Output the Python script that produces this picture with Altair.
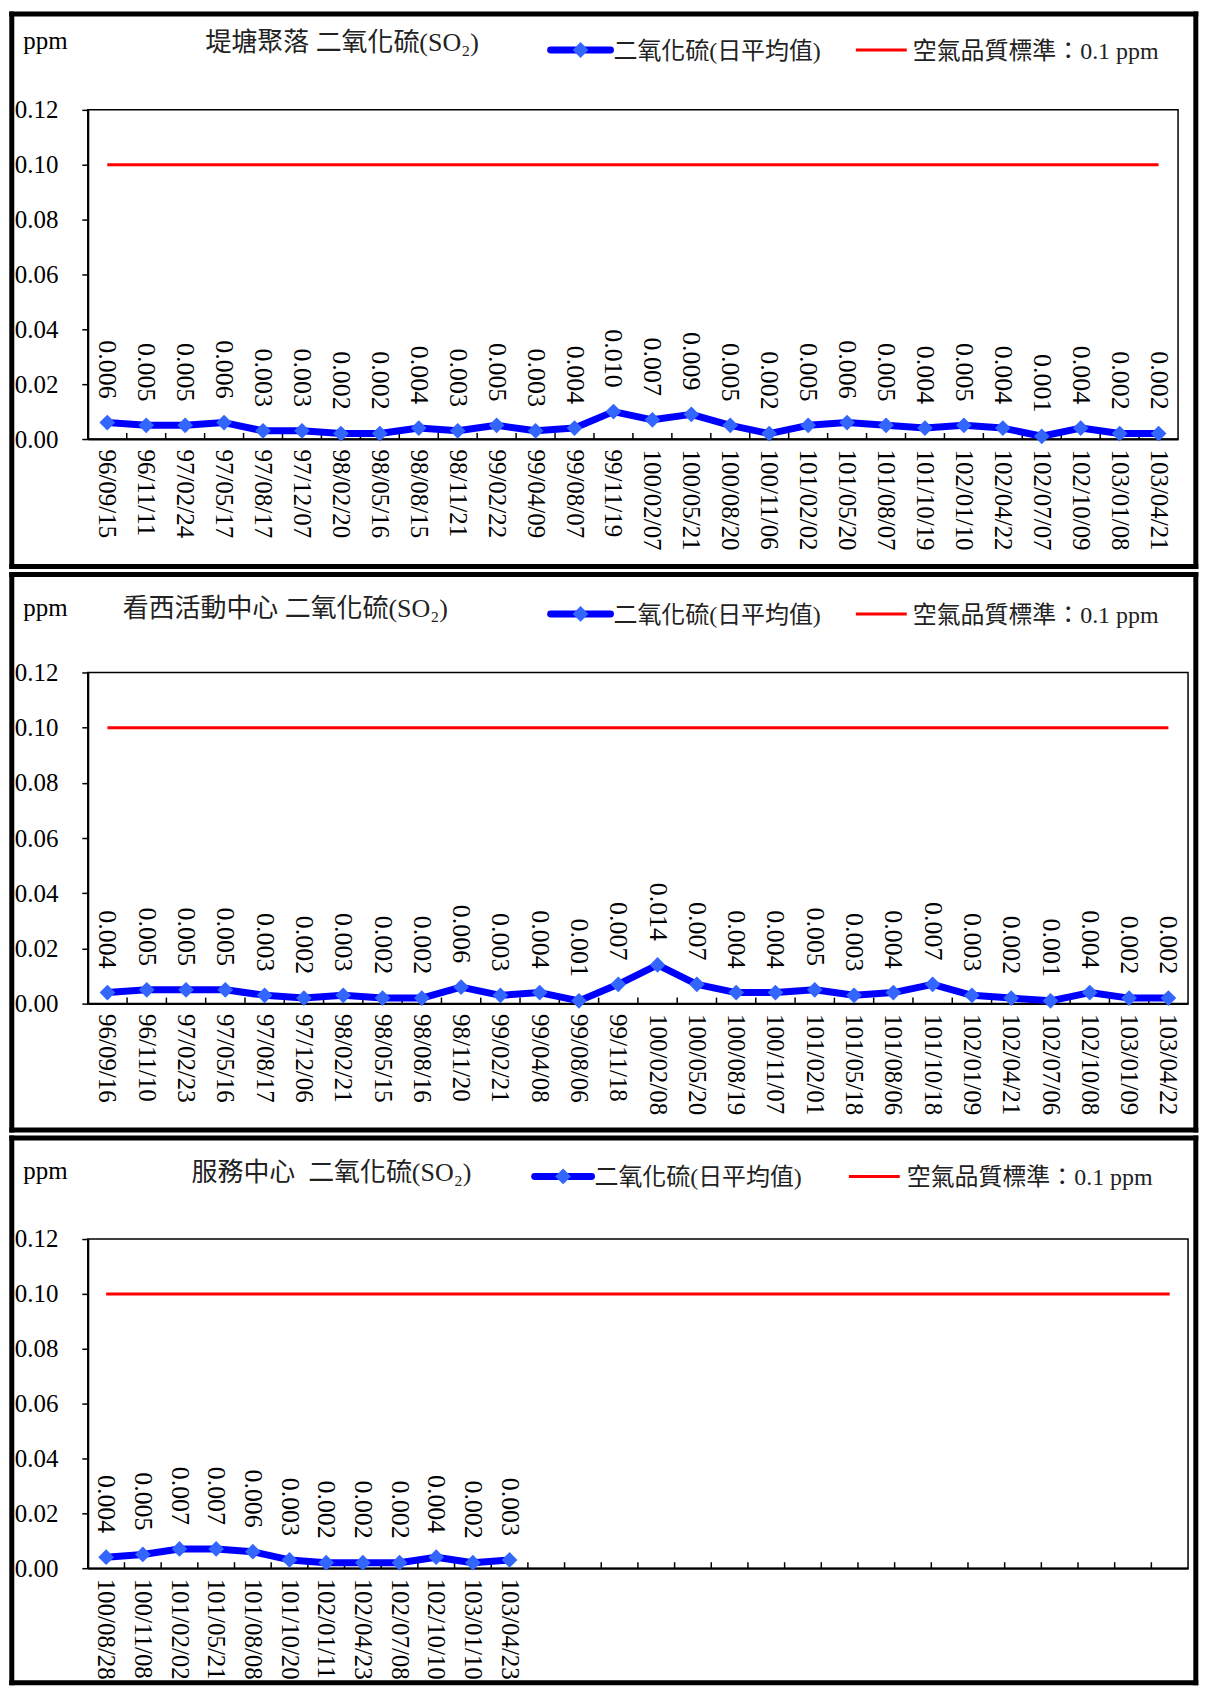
import altair as alt
import pandas as pd

FONT = 'Liberation Serif, "Noto Sans CJK TC"'

STANDARD = 0.1
Y_TICKS = [0.0, 0.02, 0.04, 0.06, 0.08, 0.10, 0.12]
unit_label = "ppm"
series_name = "二氧化硫(日平均值)"
standard_name = "空氣品質標準：0.1 ppm"

p1_title = "堤塘聚落 二氧化硫(SO₂)"
p1_dates = ["96/09/15", "96/11/11", "97/02/24", "97/05/17", "97/08/17", "97/12/07",
            "98/02/20", "98/05/16", "98/08/15", "98/11/21", "99/02/22", "99/04/09",
            "99/08/07", "99/11/19", "100/02/07", "100/05/21", "100/08/20", "100/11/06",
            "101/02/02", "101/05/20", "101/08/07", "101/10/19", "102/01/10", "102/04/22",
            "102/07/07", "102/10/09", "103/01/08", "103/04/21"]
p1_values = [0.006, 0.005, 0.005, 0.006, 0.003, 0.003, 0.002, 0.002, 0.004, 0.003,
             0.005, 0.003, 0.004, 0.010, 0.007, 0.009, 0.005, 0.002, 0.005, 0.006,
             0.005, 0.004, 0.005, 0.004, 0.001, 0.004, 0.002, 0.002]

p2_title = "看西活動中心 二氧化硫(SO₂)"
p2_dates = ["96/09/16", "96/11/10", "97/02/23", "97/05/16", "97/08/17", "97/12/06",
            "98/02/21", "98/05/15", "98/08/16", "98/11/20", "99/02/21", "99/04/08",
            "99/08/06", "99/11/18", "100/02/08", "100/05/20", "100/08/19", "100/11/07",
            "101/02/01", "101/05/18", "101/08/06", "101/10/18", "102/01/09", "102/04/21",
            "102/07/06", "102/10/08", "103/01/09", "103/04/22"]
p2_values = [0.004, 0.005, 0.005, 0.005, 0.003, 0.002, 0.003, 0.002, 0.002, 0.006,
             0.003, 0.004, 0.001, 0.007, 0.014, 0.007, 0.004, 0.004, 0.005, 0.003,
             0.004, 0.007, 0.003, 0.002, 0.001, 0.004, 0.002, 0.002]

p3_title = "服務中心\u00a0 二氧化硫(SO₂)"
p3_dates = ["100/08/28", "100/11/08", "101/02/02", "101/05/21", "101/08/08", "101/10/20",
            "102/01/11", "102/04/23", "102/07/08", "102/10/10", "103/01/10", "103/04/23"]
p3_values = [0.004, 0.005, 0.007, 0.007, 0.006, 0.003, 0.002, 0.002, 0.002, 0.004,
             0.002, 0.003]
p3_empty_slots = 18


def make_panel(title, dates, values, n_empty, width, height, bounds,
               title_xy, ppm_xy, leg):
    domain = list(dates) + [" " * (i + 1) for i in range(n_empty)]
    df = pd.DataFrame({"date": dates, "value": values, "i": range(len(dates))})
    std_df = pd.DataFrame({"date": domain, "value": [STANDARD] * len(domain),
                           "i": range(len(domain))})
    tick_df = pd.DataFrame({"date": domain})
    one = alt.Data(values=[{"k": 0}])

    x_axis = alt.Axis(title=None, labelAngle=90, labelAlign="left", labelBaseline="middle",
                      labelPadding=10, ticks=False, labelOverlap=False, labelFont=FONT,
                      labelFontSize=25, labelColor="black", domainColor="black",
                      domainWidth=2)
    x_scale = alt.Scale(type="band", domain=domain, paddingInner=0, paddingOuter=0)

    def xe(**kw):
        return alt.X("date:N", scale=x_scale, axis=x_axis, **kw)

    y_enc = alt.Y("value:Q", scale=alt.Scale(domain=[0, 0.12], nice=False, zero=True),
                  axis=alt.Axis(title=None, values=Y_TICKS, format=".2f", tickSize=6,
                                tickColor="black", tickWidth=1.5, labelPadding=24,
                                labelFont=FONT, labelFontSize=25, labelColor="black",
                                domainColor="black", domainWidth=2, grid=False))

    L, T, R, B = bounds
    w = 5

    def bar(x1, x2, y1, y2):
        return alt.Chart(one).mark_rect(color="black", strokeWidth=0).encode(
            x=alt.value(x1), x2=alt.value(x2), y=alt.value(y1), y2=alt.value(y2))

    frame = [bar(L, R, T, T + w), bar(L, R, B - w, B),
             bar(L, L + w, T, B), bar(R - w, R, T, B)]

    ticks = alt.Chart(tick_df).mark_rule(color="black", strokeWidth=1.5).encode(
        x=xe(bandPosition=0), y=alt.value(height), y2=alt.value(height - 6))

    std = alt.Chart(std_df).mark_line(color="#FF0000", strokeWidth=3).encode(
        x=xe(), y=y_enc, order=alt.Order("i:Q"))

    line = alt.Chart(df).mark_line(color="#0000FF", strokeWidth=7, strokeCap="round",
                                   strokeJoin="round").encode(
        x=xe(), y=y_enc, order=alt.Order("i:Q"))

    pts = alt.Chart(df).mark_point(shape="diamond", filled=True, size=250,
                                   color="#3366FF", opacity=1).encode(x=xe(), y=y_enc)

    labels = alt.Chart(df).mark_text(angle=90, align="right", baseline="middle", dx=-24,
                                     font=FONT, fontSize=26, color="black").encode(
        x=xe(), y=y_enc, text=alt.Text("value:Q", format=".3f"))

    ppm = alt.Chart(one).mark_text(align="left", baseline="middle", font=FONT,
                                   fontSize=25, color="black").encode(
        x=alt.value(ppm_xy[0]), y=alt.value(ppm_xy[1]), text=alt.value(unit_label))

    ttl = alt.Chart(one).mark_text(align="left", baseline="middle", font=FONT,
                                   fontSize=26, color="#222222").encode(
        x=alt.value(title_xy[0]), y=alt.value(title_xy[1]), text=alt.value(title))

    bx1, bx2, btx, rx1, rx2, rtx, ly = leg
    leg_blue = alt.Chart(one).mark_rule(color="#0000FF", strokeWidth=7,
                                        strokeCap="round").encode(
        x=alt.value(bx1), x2=alt.value(bx2), y=alt.value(ly))
    leg_pt = alt.Chart(one).mark_point(shape="diamond", filled=True, size=250,
                                       color="#3366FF", opacity=1).encode(
        x=alt.value((bx1 + bx2) / 2), y=alt.value(ly))
    leg_btxt = alt.Chart(one).mark_text(align="left", baseline="middle", font=FONT,
                                        fontSize=24, color="#222222").encode(
        x=alt.value(btx), y=alt.value(ly + 2), text=alt.value(series_name))
    leg_red = alt.Chart(one).mark_rule(color="#FF0000", strokeWidth=3).encode(
        x=alt.value(rx1), x2=alt.value(rx2), y=alt.value(ly))
    leg_rtxt = alt.Chart(one).mark_text(align="left", baseline="middle", font=FONT,
                                        fontSize=24, color="#222222").encode(
        x=alt.value(rtx), y=alt.value(ly + 2), text=alt.value(standard_name))

    return alt.layer(*frame, ticks, std, line, pts, labels, ppm, ttl,
                     leg_blue, leg_pt, leg_btxt, leg_red, leg_rtxt).properties(
        width=width, height=height)


p1 = make_panel(p1_title, p1_dates, p1_values, 0, 1093, 330,
                (-78.7, -98.7, 1113.3, 460.3), (118, -66.7), (-64.7, -68.7),
                (464, 524, 527, 770, 821, 827, -60))
p2 = make_panel(p2_title, p2_dates, p2_values, 0, 1103, 332,
                (-78.7, -100.7, 1113.3, 461.3), (35, -63.7), (-64.7, -64.7),
                (464, 524, 527, 770, 821, 827, -58.7))
p3 = make_panel(p3_title, p3_dates, p3_values, p3_empty_slots, 1103, 330,
                (-78.7, -103.7, 1113.3, 447.3), (104, -65.7), (-64.7, -67.7),
                (448, 505, 508, 763, 814, 821, -62.7))

chart = alt.vconcat(p1, p2, p3, spacing=0, padding=0).configure_view(
    stroke="black", strokeWidth=1.5)

chart.save("out.html", embed_options={"renderer": "svg", "actions": False})
